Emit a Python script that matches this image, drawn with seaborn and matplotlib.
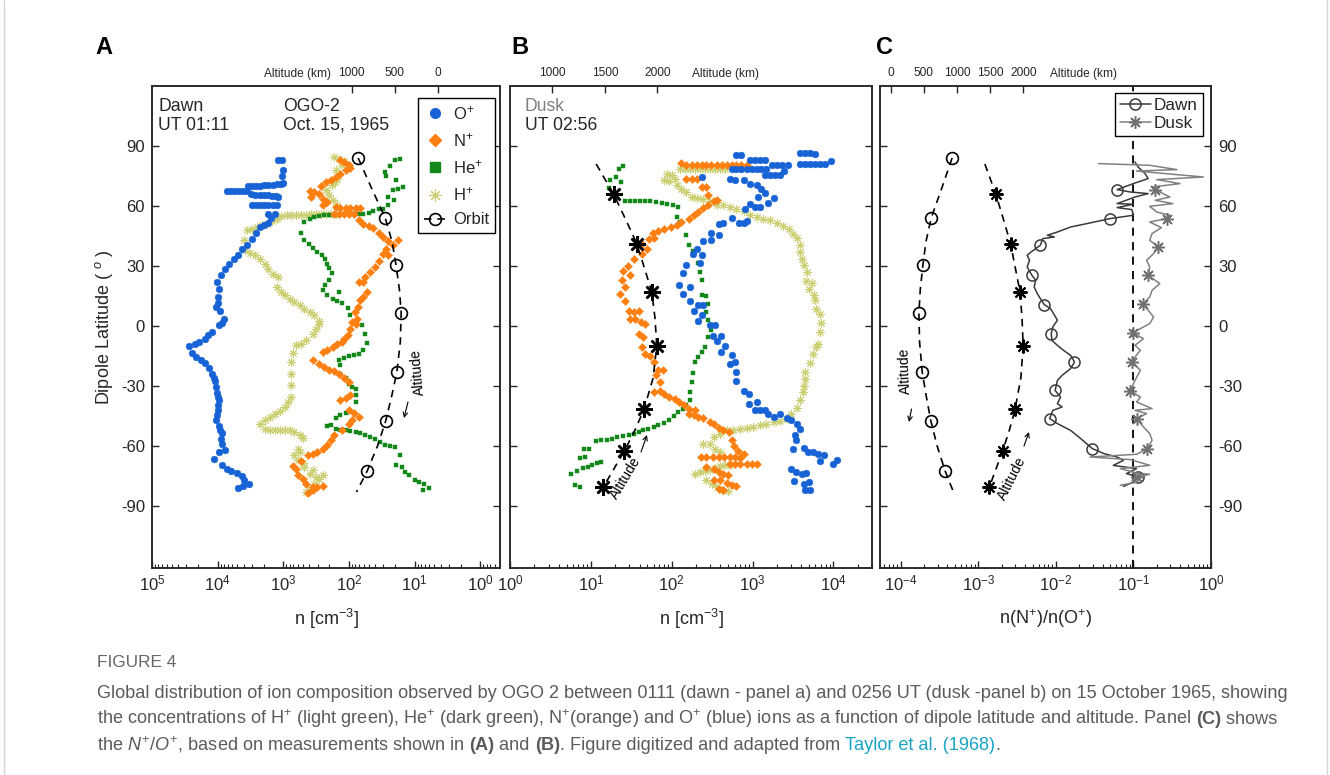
import matplotlib
matplotlib.use("Agg")
import numpy as np
import pandas as pd
import seaborn as sns
import matplotlib.pyplot as plt
from matplotlib.lines import Line2D
from matplotlib.ticker import LogLocator, NullFormatter, FixedLocator

# ---------------------------------------------------------------- data
# Dawn pass (UT 01:11): dipole latitude (deg) and log10 density (cm^-3)
dawn_O_lat = [82.9, 82.9, 77.9, 75.0, 71.7,
              70.0, 70.0, 70.1, 70.2, 70.3, 70.4, 70.6, 70.9, 71.2,
              67.5, 67.5, 67.5, 67.5, 67.4, 67.3, 65.9, 65.7, 65.5, 65.4, 65.3, 65.2, 65.1, 64.7,
              60.7, 60.7, 60.7, 60.6, 60.6, 60.5, 60.4,
              56.2, 56.2, 54.0, 51.7, 50.7, 49.5, 46.7, 43.4, 40.7, 38.4, 35.7, 33.7, 31.2, 28.3,
              25.3, 22.0, 18.3, 14.5, 11.7, 9.5, 7.3, 3.4, 1.7, 0.4, -3.0, -4.7, -6.3, -8.0, -8.8,
              -10.2, -13.3, -15.5, -17.2, -18.5, -20.8, -24.2, -25.8, -27.5, -30.5, -33.5, -35.5,
              -37.2, -39.6, -41.8, -44.6, -47.2, -50.2, -51.8, -53.5, -56.3, -59.2, -61.8, -63.0,
              -66.3, -69.7, -71.3, -72.5, -73.5, -75.2, -76.8, -79.2, -80.2, -80.8]
dawn_O_log = [3.08, 3.02, 3.01, 3.02, 3.01,
              3.54, 3.48, 3.41, 3.35, 3.29, 3.23, 3.16, 3.10, 3.04,
              3.86, 3.80, 3.74, 3.68, 3.61, 3.55, 3.49, 3.43, 3.36, 3.30, 3.24, 3.18, 3.11, 3.08,
              3.48, 3.41, 3.35, 3.29, 3.23, 3.16, 3.10,
              3.24, 3.13, 3.19, 3.23, 3.30, 3.35, 3.41, 3.48, 3.55, 3.63, 3.69, 3.75, 3.83, 3.89,
              3.95, 4.01, 3.98, 4.00, 3.99, 4.03, 3.96, 3.90, 3.94, 3.98, 4.08, 4.14, 4.20, 4.28, 4.35,
              4.43, 4.39, 4.33, 4.25, 4.19, 4.13, 4.08, 4.06, 4.04, 4.03, 4.01, 4.00,
              3.98, 4.00, 3.99, 4.01, 4.03, 3.98, 3.96, 3.93, 3.95, 3.94, 3.89, 3.98,
              4.05, 3.94, 3.86, 3.79, 3.70, 3.63, 3.60, 3.53, 3.61, 3.69]

dawn_N_lat = [82.9, 82.0, 80.3, 79.0, 77.9, 76.2, 74.5, 73.2, 72.0, 70.0, 67.4, 67.0, 66.2,
              64.5, 63.4, 62.0, 60.4, 59.5, 59.0, 59.0, 59.0, 59.0, 59.0, 56.2, 56.2, 56.2, 56.2,
              56.0, 52.9, 51.2, 50.0, 49.0, 46.7, 44.5, 42.4, 42.9, 40.7, 38.7, 36.2, 35.4, 32.4,
              29.5, 27.0, 24.5, 22.0, 22.0, 17.0, 14.5, 12.9, 9.5, 7.0, 3.7, 2.0, 1.2, -1.3, -4.5,
              -6.5, -8.0, -8.8, -10.5, -11.8, -13.0, -16.8, -18.8, -20.5, -21.8, -22.5, -23.8,
              -25.8, -28.0, -34.7, -35.8, -37.2, -42.2, -43.5, -45.5, -47.2, -49.2, -52.0, -54.7,
              -57.2, -59.7, -61.3, -63.0, -63.8, -64.7, -67.5, -70.2, -71.3, -74.7, -76.5, -78.8,
              -80.5, -80.5, -80.2, -82.2, -83.5]
dawn_N_log = [2.14, 2.08, 2.00, 1.98, 2.05, 2.13, 2.20, 2.27, 2.35, 2.43, 2.60, 2.53, 2.45,
              2.58, 2.40, 2.33, 2.40, 2.20, 2.13, 2.05, 1.98, 1.90, 1.83, 2.23, 2.15, 2.08, 2.00,
              1.93, 1.85, 1.78, 1.70, 1.63, 1.55, 1.48, 1.40, 1.25, 1.33, 1.43, 1.48, 1.40, 1.55,
              1.60, 1.68, 1.75, 1.85, 1.78, 1.73, 1.78, 1.83, 1.86, 1.91, 1.88, 1.96, 1.90, 1.98, 2.02,
              2.07, 2.10, 2.18, 2.25, 2.33, 2.40, 2.55, 2.45, 2.38, 2.30, 2.23, 2.15,
              2.08, 2.00, 1.98, 2.05, 2.13, 2.00, 1.93, 1.85, 1.95, 2.00, 2.10, 2.23,
              2.28, 2.33, 2.40, 2.48, 2.55, 2.63, 2.73, 2.85, 2.80, 2.78, 2.70, 2.65,
              2.55, 2.48, 2.40, 2.55, 2.63]

dawn_He_lat = [83.7, 82.9, 80.0, 77.0, 75.0, 72.9, 69.5, 68.7, 67.9, 64.5, 62.9, 60.4, 58.7,
               58.4, 57.4, 56.7, 56.2, 55.9, 55.8, 55.8, 55.8, 55.7, 55.7, 55.4, 55.4, 55.0, 54.5,
               53.4, 52.0, 46.7, 42.9, 41.2, 39.0, 37.0, 35.4, 33.3, 31.2, 28.8, 26.5, 22.9, 20.5,
               17.9, 15.4, 17.0, 13.7, 12.4, 11.7, 9.0, 5.4, 2.0, 0.4, -3.8, -8.5, -11.8, -13.8,
               -14.7, -15.2, -15.8, -16.8, -19.5, -23.8, -25.8, -28.8, -30.5, -31.3, -34.5, -38.0,
               -42.5, -43.5, -44.7, -45.8, -49.7, -50.2, -51.3, -51.8, -52.2, -52.5, -53.0, -53.5,
               -54.7, -55.5, -56.3, -58.0, -59.7, -60.2, -60.5, -64.7, -69.7, -70.5, -73.0, -74.7,
               -76.8, -78.0, -78.8, -80.8, -82.2]
dawn_He_log = [1.23, 1.30, 1.38, 1.45, 1.44, 1.28, 1.18, 1.26, 1.33, 1.41, 1.31, 1.40, 1.48,
               1.55, 1.63, 1.70, 1.78, 1.85, 1.93, 2.00, 2.08, 2.15, 2.23, 2.30, 2.38, 2.45, 2.53,
               2.60, 2.68, 2.73, 2.68, 2.61, 2.55, 2.48, 2.41, 2.37, 2.34, 2.30, 2.26, 2.30, 2.36,
               2.40, 2.33, 2.15, 2.25, 2.18, 2.10, 2.01, 1.98, 1.91, 1.80, 1.75, 1.73, 1.78, 1.85,
               1.93, 2.00, 2.08, 2.15, 2.13, 2.13, 2.05, 2.00, 1.95, 1.90, 1.89, 1.89,
               1.98, 2.05, 2.13, 2.20, 2.28, 2.33, 2.20, 2.13, 2.05, 1.98, 1.90, 1.83,
               1.75, 1.68, 1.60, 1.53, 1.45, 1.38, 1.30, 1.23, 1.28, 1.20, 1.14, 1.08,
               1.00, 0.93, 0.85, 0.78, 0.88]

dawn_H_lat = [84.5, 83.5, 82.5, 80.5, 77.9, 73.7, 72.0, 70.4, 67.9, 65.4, 62.9, 60.7,
              55.2, 55.3, 55.4, 55.5, 55.6, 55.7, 55.8, 55.9, 56.0, 56.1, 56.2, 56.2,
              53.4, 52.4, 51.2, 50.3, 49.5, 48.7, 47.9, 42.9, 37.9, 36.7, 35.4, 33.7, 31.2, 28.7,
              26.2, 24.5, 19.5, 17.0, 15.4, 13.7, 12.0, 10.4, 8.7, 7.0, 5.4, 2.4, 1.2, -1.3, -3.8,
              -7.2, -8.8, -9.7, -13.5, -18.0, -23.8, -29.7, -35.5, -38.0, -40.5, -42.5, -43.8,
              -45.5, -46.8, -49.2, -51.3, -51.8, -51.8, -51.8, -52.2, -52.2, -53.0, -54.7, -55.8,
              -61.3, -63.0, -64.7, -67.2, -68.5, -70.5, -71.8, -73.8, -74.7, -75.5, -76.3, -78.8,
              -81.3, -83.0]
dawn_H_log = [2.23, 2.15, 2.08, 2.10, 2.20, 2.18, 2.22, 2.26, 2.35, 2.31, 2.25, 2.18,
              3.03, 2.95, 2.88, 2.80, 2.73, 2.65, 2.58, 2.50, 2.43, 2.35, 2.28, 2.20,
              3.10, 3.18, 3.25, 3.33, 3.40, 3.48, 3.55, 3.60, 3.58, 3.50, 3.43, 3.35, 3.28, 3.23,
              3.15, 3.08, 3.10, 3.03, 2.98, 2.90, 2.83, 2.75, 2.68, 2.60, 2.53, 2.45, 2.45, 2.50, 2.55,
              2.65, 2.73, 2.80, 2.86, 2.88, 2.88, 2.88, 2.88, 2.93, 2.98, 3.05, 3.13,
              3.20, 3.28, 3.35, 3.28, 3.20, 3.13, 3.05, 2.98, 2.90, 2.83, 2.75, 2.70,
              2.78, 2.75, 2.83, 2.78, 2.70, 2.68, 2.55, 2.60, 2.40, 2.50, 2.45, 2.53,
              2.60, 2.65]

# Dusk pass (UT 02:56)
dusk_O_lat = [85.7, 85.7, 82.9, 82.9, 82.9, 82.9,
              78.4, 78.4, 78.4, 78.4, 78.4, 78.4, 78.4, 78.4,
              80.7, 80.7, 80.7, 80.7, 75.7, 75.7, 75.7, 75.7, 77.3,
              86.5, 86.5, 86.5, 85.8, 81.2, 81.2, 81.2, 81.2, 81.2, 81.2, 82.5,
              74.5, 73.7, 72.9, 72.9, 71.2, 70.7, 68.7, 66.7, 64.0, 64.5, 61.2, 59.5, 59.5, 61.7,
              58.7, 54.0, 51.7, 51.7, 52.4, 51.7, 51.0, 46.7, 45.4, 42.9, 42.4, 38.4, 36.2, 35.7,
              31.7, 30.7, 26.7, 20.4, 19.5, 16.2, 12.4, 10.4, 10.4, 7.4, 5.7, 2.4, 0.7, 0.7,
              -5.2, -5.2, -7.5, -10.2, -13.0, -14.7, -18.0, -19.2, -23.0, -27.5, -32.5, -34.2,
              -38.0, -38.8, -41.8, -41.8, -42.2, -43.8, -45.5, -44.2, -45.8, -47.2, -49.2, -51.3,
              -54.7, -57.2, -61.3, -60.8, -63.0, -63.0, -64.0, -64.7, -67.5, -69.2, -67.2, -71.3,
              -73.0, -73.8, -73.5, -77.5, -79.2, -78.0, -82.2, -81.8]
dusk_O_log = [2.80, 2.86, 2.97, 3.03, 3.09, 3.15,
              2.74, 2.80, 2.86, 2.93, 2.99, 3.05, 3.11, 3.17,
              3.24, 3.30, 3.36, 3.44, 3.15, 3.22, 3.28, 3.34, 3.39,
              3.59, 3.65, 3.71, 3.77, 3.59, 3.65, 3.71, 3.77, 3.83, 3.90, 3.97,
              2.37, 2.72, 2.78, 2.89, 2.97, 3.05, 3.11, 3.15, 3.26, 3.07, 2.97, 3.03, 3.09, 3.19,
              2.91, 2.74, 2.83, 2.89, 2.93, 2.64, 2.58, 2.49, 2.59, 2.49, 2.39, 2.31, 2.26, 2.37,
              2.35, 2.18, 2.14, 2.09, 2.23, 2.14, 2.23, 2.33, 2.39, 2.28, 2.37, 2.33, 2.47, 2.54,
              2.51, 2.61, 2.56, 2.66, 2.61, 2.74, 2.78, 2.72, 2.80, 2.80, 2.89, 2.95,
              3.05, 2.95, 3.03, 3.09, 3.15, 3.19, 3.26, 3.34, 3.42, 3.48, 3.55, 3.59,
              3.52, 3.54, 3.50, 3.63, 3.69, 3.75, 3.81, 3.88, 3.83, 4.00, 4.05, 3.47,
              3.54, 3.61, 3.66, 3.51, 3.64, 3.70, 3.65, 3.71]

dusk_N_lat = [81.7, 80.4, 80.4, 80.4, 80.7, 80.7, 80.7, 80.7, 80.7, 80.7, 80.7, 80.7, 80.7, 80.7,
              73.4, 73.4, 73.7, 69.5, 69.5, 65.7, 62.4, 62.9, 60.4, 59.0, 57.0, 55.4, 53.4, 52.0,
              50.7, 49.5, 48.7, 47.4, 46.7, 44.0, 43.7, 41.2, 38.4, 36.2, 33.7, 30.0, 27.4, 25.4,
              22.9, 19.5, 16.2, 12.4, 7.4, 7.0, 7.4, 3.4, 3.4, 2.0, 1.2,
              -3.8, -5.5, -10.5, -13.8, -15.2, -18.0, -21.8, -22.2, -24.7, -28.0, -33.0, -32.5,
              -34.2, -35.5, -36.3, -38.0, -39.7, -41.3, -42.2, -43.8, -44.7, -45.5, -45.8, -48.0,
              -49.2, -50.8, -51.8, -53.0, -56.8, -60.2, -62.5, -63.8, -65.8,
              -65.5, -65.5, -65.5, -65.5, -65.5, -65.5, -65.5,
              -68.8, -68.8, -68.8, -68.8, -68.8, -69.1,
              -70.5, -71.3, -73.0, -73.8, -74.7, -76.8, -77.2, -78.5, -79.7, -80.2, -81.3, -81.8]
dusk_N_log = [2.12, 2.18, 2.25, 2.31, 2.37, 2.43, 2.49, 2.56, 2.62, 2.68, 2.74, 2.80, 2.86, 2.93,
              2.18, 2.25, 2.31, 2.37, 2.42, 2.45, 2.52, 2.56, 2.45, 2.39, 2.33, 2.27, 2.21, 2.12,
              2.06, 1.99, 1.90, 1.83, 1.77, 1.78, 1.72, 1.63, 1.69, 1.63, 1.53, 1.46, 1.40, 1.49,
              1.38, 1.42, 1.36, 1.42, 1.47, 1.53, 1.59, 1.48, 1.55, 1.62, 1.67,
              1.59, 1.65, 1.63, 1.67, 1.73, 1.78, 1.83, 1.89, 1.81, 1.85, 1.78, 1.85,
              1.90, 1.97, 2.04, 2.09, 2.15, 2.22, 2.29, 2.21, 2.27, 2.33, 2.39, 2.47,
              2.52, 2.58, 2.64, 2.71, 2.75, 2.77, 2.82, 2.89, 2.84,
              2.36, 2.43, 2.51, 2.58, 2.65, 2.72, 2.78,
              2.72, 2.78, 2.84, 2.93, 2.99, 3.06,
              2.43, 2.52, 2.58, 2.64, 2.70, 2.52, 2.60, 2.68, 2.74, 2.79, 2.58, 2.64]

dusk_He_lat = [80.0, 78.4, 74.5, 72.9, 72.0, 69.0, 66.2, 64.5,
               62.4, 62.4, 62.4, 62.4, 62.4, 62.4, 62.0, 61.7, 61.2, 60.4, 59.5,
               54.5, 52.0, 45.7, 40.7, 37.4, 31.7, 27.0, 22.9, 15.7, 15.0, 11.2, 7.0, 2.9, 0.4,
               -1.8, -5.5, -10.5, -13.0, -15.5, -18.0, -23.5, -28.0, -33.0, -37.2, -39.7, -41.3,
               -43.0, -45.2, -46.8, -48.5, -49.7, -50.5, -51.3, -52.2, -53.0, -53.8, -54.7, -55.2,
               -55.5, -56.3, -56.8, -56.8, -57.5, -61.3, -61.3, -65.5, -65.8, -68.0, -68.5, -69.7,
               -70.5, -70.8, -72.5, -74.2, -79.7, -80.5]
dusk_He_log = [1.40, 1.35, 1.31, 1.24, 1.37, 1.22, 1.26, 1.32,
               1.42, 1.48, 1.55, 1.61, 1.67, 1.73, 1.81, 1.88, 1.94, 2.01, 2.08,
               2.06, 2.10, 2.18, 2.21, 2.26, 2.33, 2.35, 2.37, 2.38, 2.43, 2.45, 2.42, 2.45, 2.48,
               2.48, 2.45, 2.41, 2.37, 2.33, 2.29, 2.26, 2.25, 2.23, 2.23, 2.18, 2.14,
               2.08, 2.03, 1.97, 1.90, 1.83, 1.78, 1.71, 1.65, 1.59, 1.53, 1.47, 1.40,
               1.32, 1.26, 1.20, 1.13, 1.06, 0.98, 0.92, 0.93, 0.87, 1.13, 1.08, 1.01,
               0.96, 0.90, 0.83, 0.76, 0.80, 0.87]

dusk_H_lat = [76.2, 75.7, 72.9, 72.4, 73.7,
              78.4, 78.4, 78.4, 78.4, 78.4, 78.4, 78.4, 78.4, 78.4, 78.4,
              70.4, 68.7, 67.0, 64.5, 64.0, 63.7, 62.4, 60.7, 60.4, 59.5, 58.7, 57.4, 55.7, 54.5,
              53.7, 52.9, 51.7, 50.0, 48.7, 46.2, 44.0, 40.7, 37.0, 33.7, 30.4, 27.0, 22.4, 21.7,
              18.4, 15.7, 12.9, 8.7, 6.2, 1.7,
              -3.0, -8.8, -10.5, -13.8, -18.5, -23.0, -26.3, -30.0, -33.0, -37.2, -40.8, -43.8,
              -46.3, -47.5, -48.0, -48.8, -49.7, -50.5, -50.8, -51.3, -51.8, -52.2, -53.8, -55.5,
              -59.2, -58.8, -61.3, -63.0,
              -73.8, -73.0, -72.5, -71.8, -70.8, -70.2, -69.7, -69.7,
              -76.8, -78.8, -80.5, -81.8, -82.5]
dusk_H_log = [1.94, 2.00, 1.90, 1.97, 2.04,
              2.10, 2.16, 2.23, 2.29, 2.35, 2.41, 2.47, 2.54, 2.60, 2.66,
              2.06, 2.12, 2.18, 2.25, 2.31, 2.39, 2.47, 2.56, 2.64, 2.72, 2.80, 2.89, 2.97, 3.05,
              3.13, 3.22, 3.30, 3.38, 3.45, 3.50, 3.55, 3.59, 3.59, 3.61, 3.63, 3.67, 3.66, 3.73,
              3.70, 3.76, 3.77, 3.79, 3.84, 3.85,
              3.84, 3.81, 3.79, 3.75, 3.71, 3.65, 3.65, 3.63, 3.62, 3.59, 3.55, 3.48,
              3.42, 3.34, 3.26, 3.17, 3.09, 3.01, 2.93, 2.85, 2.76, 2.68, 2.60, 2.52,
              2.39, 2.47, 2.54, 2.60,
              2.29, 2.35, 2.41, 2.47, 2.54, 2.60, 2.66, 2.72,
              2.43, 2.50, 2.56, 2.62, 2.69]

# Satellite orbit altitude (km) along each pass
dawn_orbit_lat = [84, 69, 54, 42, 30.5, 18, 6.5, -8, -23, -35, -47.5, -60, -72.5, -83]
dawn_orbit_alt = [925, 770, 610, 530, 485, 445, 425, 435, 475, 535, 605, 700, 820, 945]
dawn_orbit_marks = [0, 2, 4, 6, 8, 10, 12]
dusk_orbit_lat = [81, 66, 54, 41.2, 17.2, 4, -10, -26, -41.7, -52, -62.5, -80.5]
dusk_orbit_alt = [1418, 1583, 1692, 1805, 1947, 1978, 1995, 1960, 1873, 1788, 1686, 1486]
dusk_orbit_marks = [1, 3, 4, 6, 8, 10, 11]

# N+/O+ density ratio (log10) along each pass
ratio_dawn_lat = [82.0, 79.5, 76.2, 73.7, 71.5, 68.2, 67.0, 66.2, 64.5, 61.2, 60.9, 59.2, 58.2,
                  55.4, 53.7, 51.2, 49.5, 47.0, 45.4, 44.5, 43.7, 40.4, 37.0, 35.4, 32.9, 29.5,
                  25.4, 22.9, 19.5, 16.2, 13.7, 10.7, 8.7, 6.2, 2.9, -0.5, -3.8, -7.2, -9.7,
                  -12.2, -14.7, -18.0, -21.3, -24.7, -27.2, -32.2, -35.5, -38.8, -40.5, -42.2,
                  -46.3, -48.8, -52.2, -56.3, -61.3, -63.8, -65.5, -67.2, -69.7, -71.3, -73.8,
                  -75.5, -78.0, -80.2]
ratio_dawn_log = [-0.98, -0.94, -0.85, -0.81, -0.98, -1.21, -1.04, -0.81, -0.98, -1.21, -1.00,
                  -1.21, -1.02, -1.00, -1.30, -1.60, -1.81, -1.98, -2.11, -2.02, -2.17, -2.20,
                  -2.32, -2.37, -2.34, -2.37, -2.31, -2.26, -2.28, -2.24, -2.20, -2.15, -2.07,
                  -2.03, -1.98, -2.04, -2.06, -2.05, -1.98, -1.90, -1.81, -1.76, -1.81, -1.92,
                  -1.98, -2.01, -1.94, -1.98, -1.92, -2.04, -2.08, -1.98, -1.81, -1.68, -1.53,
                  -1.38, -1.21, -1.13, -1.26, -0.96, -1.09, -0.94, -1.00, -1.13]
ratio_dawn_marks = [5, 14, 21, 26, 31, 36, 41, 45, 50, 54, 61]

ratio_dusk_lat = [81.2, 80.35, 78.2, 77.5, 74.5, 73.2, 71.2, 69.5, 68.2, 64.5, 62.85, 61.2,
                  59.85, 57.0, 55.35, 53.7, 52.0, 49.2, 46.2, 42.85, 39.5, 36.2, 32.85, 29.5,
                  25.35, 21.2, 17.85, 14.5, 10.85, 7.85, 4.5, 1.2, -1.3, -3.5, -6.3, -9.65,
                  -12.15, -15.0, -18.0, -22.15, -27.15, -32.5, -35.5, -38.0, -41.3, -42.15,
                  -43.8, -46.3, -50.5, -53.8, -57.15, -61.3, -64.15, -65.5, -66.8, -69.65,
                  -71.3, -73.5, -74.15, -75.5, -77.15, -78.0, -79.65]
ratio_dusk_log = [-1.45, -0.79, -0.44, -0.96, -0.10, -0.70, -0.40, -0.76, -0.72, -0.53, -0.72,
                  -0.49, -0.79, -0.70, -0.53, -0.57, -0.79, -0.64, -0.76, -0.79, -0.68, -0.74,
                  -0.83, -0.79, -0.81, -0.66, -0.76, -0.79, -0.88, -0.81, -0.74, -0.79, -0.91,
                  -1.01, -0.87, -0.98, -0.91, -0.97, -1.02, -0.91, -0.98, -1.04, -0.91, -0.96,
                  -0.76, -0.98, -0.83, -0.96, -0.87, -0.79, -0.76, -0.82, -0.96, -1.56, -1.04,
                  -0.79, -1.17, -0.96, -0.79, -0.96, -1.02, -0.94, -1.17]
ratio_dusk_marks = [8, 15, 20, 24, 28, 33, 38, 41, 47, 51, 59]

lat_ticks = [-90, -60, -30, 0, 30, 60, 90]
alt_ticks_A = [0, 500, 1000]
alt_ticks_B = [1000, 1500, 2000]
alt_ticks_C = [0, 500, 1000, 1500, 2000]

# ---------------------------------------------------------------- style
sns.set_theme(style="white")
plt.rcParams["font.family"] = ["Liberation Sans", "DejaVu Sans"]
plt.rcParams["mathtext.fontset"] = "custom"
plt.rcParams["mathtext.rm"] = "Liberation Sans"
plt.rcParams["mathtext.it"] = "Liberation Sans:italic"
plt.rcParams["mathtext.bf"] = "Liberation Sans:bold"
plt.rcParams["axes.unicode_minus"] = False
plt.rcParams["axes.edgecolor"] = "#262626"
plt.rcParams["axes.linewidth"] = 1.1

C_O, C_N, C_HE, C_H = "#1763d6", "#ff7f10", "#13871a", "#cbcf72"
INK = "#262626"
ASTER = (8, 2, 0)

W, H = 1330, 775
fig = plt.figure(figsize=(W / 100, H / 100), dpi=100)


def fx(px):
    return px / W


def fy(py):
    return 1 - py / H


TOP, BOT = 86, 568


def panel(left, right):
    return fig.add_axes([fx(left), fy(BOT), (right - left) / W, (BOT - TOP) / H])


axA = panel(152, 500)
axB = panel(510, 872)
axC = panel(880, 1211)


def species_frame(lat, logn):
    return pd.DataFrame({"lat": lat, "n": np.power(10.0, logn)})


def draw_species(ax, sets):
    ax.set_xscale("log")
    for lat, logn, marker, color, size, lw in sets:
        df = species_frame(lat, logn)
        if marker == ASTER:
            sns.scatterplot(data=df, x="n", y="lat", ax=ax, marker=marker, s=size,
                            color=color, linewidth=lw, legend=False, zorder=2)
        else:
            sns.scatterplot(data=df, x="n", y="lat", ax=ax, marker=marker, s=size,
                            color=color, edgecolor=color, linewidth=lw, legend=False, zorder=2)


draw_species(axA, [
    (dawn_H_lat, dawn_H_log, ASTER, C_H, 28, 0.75),
    (dawn_He_lat, dawn_He_log, "s", C_HE, 12, 0.3),
    (dawn_N_lat, dawn_N_log, "D", C_N, 17, 0.3),
    (dawn_O_lat, dawn_O_log, "o", C_O, 24, 0.3),
])
draw_species(axB, [
    (dusk_H_lat, dusk_H_log, ASTER, C_H, 28, 0.75),
    (dusk_He_lat, dusk_He_log, "s", C_HE, 12, 0.3),
    (dusk_N_lat, dusk_N_log, "D", C_N, 17, 0.3),
    (dusk_O_lat, dusk_O_log, "o", C_O, 24, 0.3),
])

# Panel C: ratio curves
axC.set_xscale("log")
axC.axvline(0.1, color="black", lw=1.3, ls=(0, (4.5, 3.5)), zorder=1)
sns.lineplot(x=np.power(10.0, ratio_dawn_log), y=ratio_dawn_lat, ax=axC, sort=False,
             estimator=None, color="#3a3a3a", lw=1.1, marker="o", markevery=ratio_dawn_marks,
             markersize=8, markerfacecolor="none", markeredgecolor="#3a3a3a",
             markeredgewidth=1.1, zorder=3)
sns.lineplot(x=np.power(10.0, ratio_dusk_log), y=ratio_dusk_lat, ax=axC, sort=False,
             estimator=None, color="#808080", lw=1.1, marker=ASTER, markevery=ratio_dusk_marks,
             markersize=9, markeredgecolor="#707070", markeredgewidth=1.1, zorder=3)


def style_lat_axes(ax, xlim, side):
    ax.set_xlim(*xlim)
    ax.set_ylim(-121, 120)
    ax.set_yticks(lat_ticks)
    ax.xaxis.set_major_locator(LogLocator(base=10, numticks=20))
    ax.xaxis.set_minor_locator(LogLocator(base=10, subs=np.arange(2, 10), numticks=60))
    ax.xaxis.set_minor_formatter(NullFormatter())
    ax.tick_params(which="both", direction="in", bottom=True, top=False, left=True,
                   right=True, colors=INK, labelsize=12)
    ax.tick_params(which="major", length=5, width=1.0)
    ax.tick_params(which="minor", length=2.6, width=0.8)
    ax.tick_params(axis="x", pad=4)
    ax.tick_params(axis="y", labelleft=(side == "left"), labelright=(side == "right"), pad=5)
    ax.set_ylabel("")
    ax.set_xlabel("")
    ax.grid(False)
    for s in ax.spines.values():
        s.set_color(INK)
        s.set_linewidth(1.1)


style_lat_axes(axA, (1e5, 10 ** -0.3), "left")
style_lat_axes(axB, (1, 3e4), "none")
style_lat_axes(axC, (5.4e-5, 1), "right")

axA.set_ylabel("Dipole Latitude ( $^{o}$ )", fontsize=13, color=INK, labelpad=4)
axA.set_xlabel("n [cm$^{-3}$]", fontsize=13, color=INK, labelpad=10)
axB.set_xlabel("n [cm$^{-3}$]", fontsize=13, color=INK, labelpad=10)
axC.set_xlabel("n(N$^{+}$)/n(O$^{+}$)", fontsize=13, color=INK, labelpad=10)


def altitude_axis(ax, alim, ticks, label_px):
    t = ax.twiny()
    t.set_xlim(*alim)
    t.xaxis.set_major_locator(FixedLocator(ticks))
    t.tick_params(axis="x", which="major", direction="in", length=5, width=1.0, top=True,
                  bottom=False, labelsize=8.6, pad=5, colors=INK)
    t.tick_params(axis="x", which="minor", top=False, bottom=False)
    t.grid(False)
    fig.text(fx(label_px), fy(74), "Altitude (km)", ha="center", va="center",
             fontsize=8.6, color=INK)
    return t


topA = altitude_axis(axA, (3322, -724), alt_ticks_A, 297)
topB = altitude_axis(axB, (597, 4045), alt_ticks_B, 725)
topC = altitude_axis(axC, (-161, 4824), alt_ticks_C, 1083)

DASH = (0, (4.5, 3.5))
for t in (topA, topC):
    t.plot(dawn_orbit_alt, dawn_orbit_lat, color="black", lw=1.2, ls=DASH, marker="o",
           markevery=dawn_orbit_marks, ms=8.5, mfc="none", mec="black", mew=1.2, zorder=4)
topB.plot(dusk_orbit_alt, dusk_orbit_lat, color="black", lw=1.2, ls=DASH, marker=ASTER,
          markevery=dusk_orbit_marks, ms=12, mec="black", mew=1.8, zorder=4)
topC.plot(dusk_orbit_alt, dusk_orbit_lat, color="black", lw=1.2, ls=DASH, marker=ASTER,
          markevery=dusk_orbit_marks, ms=10, mec="black", mew=1.5, zorder=4)


def ax_point(ax, px, py):
    """Pixel position on the page -> axes fraction of ax."""
    inv = ax.transAxes.inverted()
    return inv.transform((px, H - py))


def altitude_note(ax, text_px, rot, tail_px, head_px):
    tx, ty = ax_point(ax, *text_px)
    ax.text(tx, ty, "Altitude", transform=ax.transAxes, rotation=rot, ha="center",
            va="center", fontsize=10, color="black", rotation_mode="anchor")
    ax.annotate("", xy=ax_point(ax, *head_px), xytext=ax_point(ax, *tail_px),
                xycoords="axes fraction", textcoords="axes fraction",
                arrowprops=dict(arrowstyle="->", lw=0.8, color="black",
                                shrinkA=0, shrinkB=0, mutation_scale=8))


fig.canvas.draw()
altitude_note(axA, (418, 372), 95, (408, 402), (404, 418))
altitude_note(axB, (626, 478), 59, (641, 452), (647, 435))
altitude_note(axC, (905, 371), 92, (911.5, 409), (909, 422))
altitude_note(axC, (1012, 478), 63, (1024, 446), (1029, 432))

# legends
leg_A = [
    Line2D([], [], ls="none", marker="o", ms=7, color=C_O, label="O$^{+}$"),
    Line2D([], [], ls="none", marker="D", ms=6.5, color=C_N, label="N$^{+}$"),
    Line2D([], [], ls="none", marker="s", ms=6.5, color=C_HE, label="He$^{+}$"),
    Line2D([], [], ls="none", marker=ASTER, ms=9, mew=0.8, color=C_H, label="H$^{+}$"),
    Line2D([], [], ls=DASH, lw=1.2, color="black", marker="o", ms=8.5, mfc="none",
           mew=1.2, label="Orbit"),
]
lgA = topA.legend(handles=leg_A, loc="upper right", bbox_to_anchor=(fx(495), fy(98)),
                  bbox_transform=fig.transFigure, fontsize=12, frameon=True, fancybox=False,
                  edgecolor="black", framealpha=1, borderpad=0.35, labelspacing=0.55,
                  handlelength=1.3, handletextpad=0.45, borderaxespad=0)
lgA.get_frame().set_linewidth(1.0)

leg_C = [
    Line2D([], [], color="#3a3a3a", lw=1.1, marker="o", ms=8, mfc="none", mew=1.1,
           label="Dawn"),
    Line2D([], [], color="#808080", lw=1.1, marker=ASTER, ms=9, mec="#707070", mew=1.1,
           label="Dusk"),
]
lgC = topC.legend(handles=leg_C, loc="upper right", bbox_to_anchor=(fx(1203), fy(92.5)),
                  bbox_transform=fig.transFigure, fontsize=12.3, frameon=True, fancybox=False,
                  edgecolor="black", framealpha=1, borderpad=0.3, labelspacing=0.2,
                  handlelength=1.8, handletextpad=0.2, borderaxespad=0)
lgC.get_frame().set_linewidth(1.0)

# in-panel annotations
fig.text(fx(158), fy(106.5), "Dawn", fontsize=12.7, color=INK, va="center")
fig.text(fx(158), fy(125), "UT 01:11", fontsize=12.7, color=INK, va="center")
fig.text(fx(283), fy(106.5), "OGO-2", fontsize=12.7, color=INK, va="center")
fig.text(fx(283), fy(125), "Oct. 15, 1965", fontsize=12.7, color=INK, va="center")
fig.text(fx(525), fy(106.5), "Dusk", fontsize=12.7, color="#7f7f7f", va="center")
fig.text(fx(525), fy(125), "UT 02:56", fontsize=12.7, color=INK, va="center")

for letter, px in (("A", 95), ("B", 511), ("C", 876)):
    fig.text(fx(px), fy(48), letter, fontsize=17, fontweight="bold", color="black",
             va="center", ha="left")

# caption
CAP = "#5b5b5b"
renderer = fig.canvas.get_renderer()


def text_width(s, size, **kw):
    t = fig.text(0, 0, s, fontsize=size, **kw)
    w = t.get_window_extent(renderer).width
    t.remove()
    return w


def rich_line(x_px, base_px, pieces, size):
    x = x_px
    for s, kw in pieces:
        style = dict(color=CAP)
        style.update(kw)
        fig.text(fx(x), fy(base_px), s, fontsize=size, va="baseline", ha="left", **style)
        x += text_width("|" + s + "|", size, **style) - text_width("||", size, **style)


line1 = ("Global distribution of ion composition observed by OGO 2 between 0111 (dawn - panel a) "
         "and 0256 UT (dusk -panel b) on 15 October 1965, showing")
cap_size = 12.0 * 1193 / text_width(line1, 12.0)

fig.text(fx(97), fy(667), "FIGURE 4", fontsize=cap_size * 0.95, color="#666666",
         va="baseline", ha="left")
rich_line(97, 698.5, [(line1, {})], cap_size)
rich_line(97, 724.5, [
    ("the concentrations of H$^{+}$ (light green), He$^{+}$ (dark green), N$^{+}$(orange) and "
     "O$^{+}$ (blue) ions as a function of dipole latitude and altitude. Panel ", {}),
    ("(C)", {"fontweight": "bold"}),
    (" shows", {}),
], cap_size)
rich_line(97, 750.5, [
    ("the $N^{+}/O^{+}$, based on measurements shown in ", {}),
    ("(A)", {"fontweight": "bold"}),
    (" and ", {}),
    ("(B)", {"fontweight": "bold"}),
    (". Figure digitized and adapted from ", {}),
    ("Taylor et al. (1968)", {"color": "#1ba3c6"}),
    (".", {}),
], cap_size)

# page edges
for xpx in (3.5, 1326.5):
    fig.add_artist(Line2D([fx(xpx), fx(xpx)], [0, 1], color="#d4d4d4", lw=1.0,
                          transform=fig.transFigure))

fig.savefig("out.png", dpi=100)
